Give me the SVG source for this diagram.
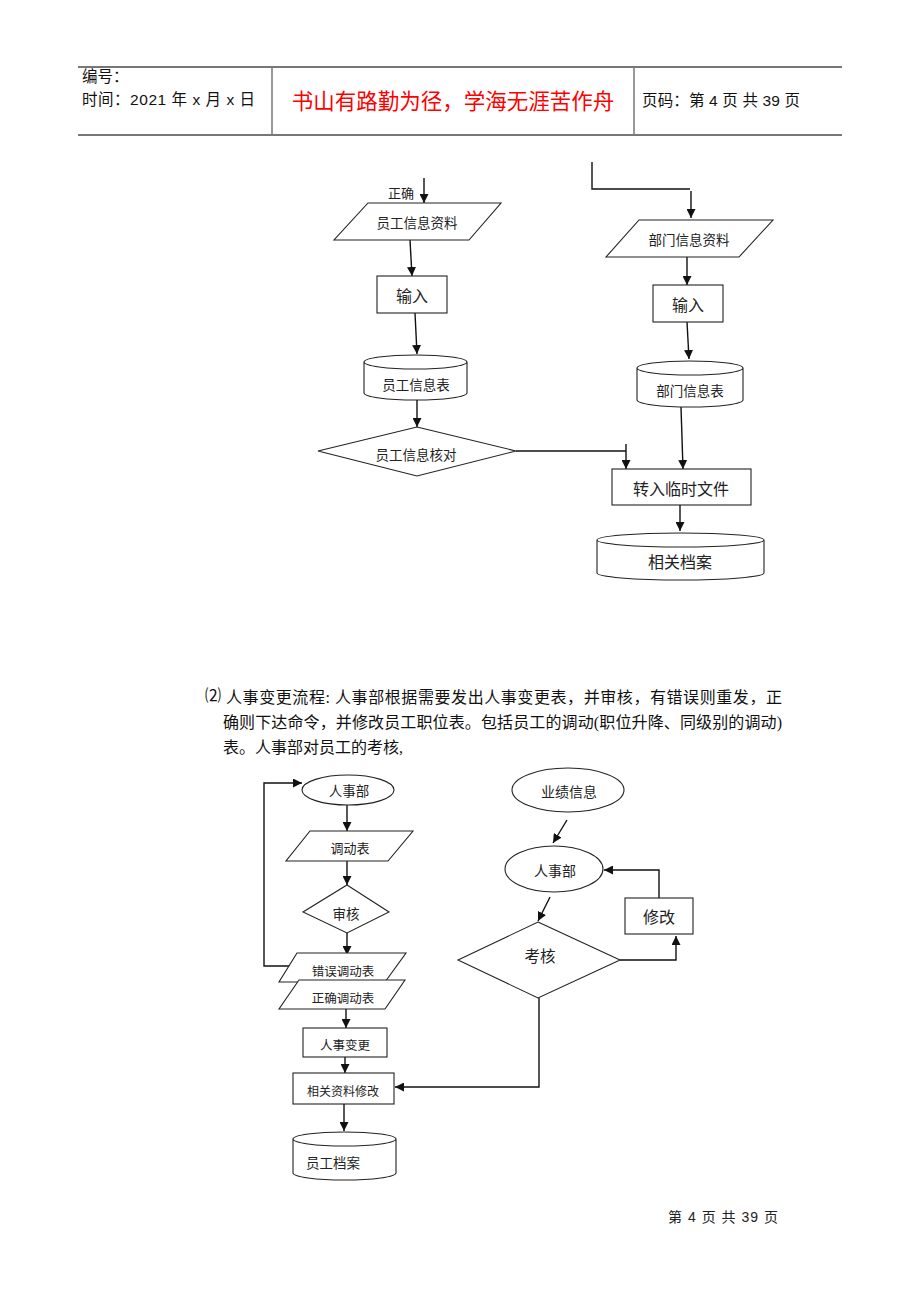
<svg xmlns="http://www.w3.org/2000/svg" width="920" height="1302" viewBox="0 0 920 1302">
<style>
.hd{font-family:"Liberation Sans","Noto Sans CJK SC",sans-serif;font-size:15.5px;fill:#111}
.t{font-family:"Noto Sans CJK SC",sans-serif;fill:#222;text-anchor:middle;dominant-baseline:central}
.sh{fill:#fff;stroke:#222;stroke-width:1.1}
.c{fill:none;stroke:#111;stroke-width:1.4}
.p{font-family:"Liberation Serif","Noto Sans CJK SC",serif;font-size:16px;fill:#111}
</style>
<defs>
<marker id="ah" viewBox="0 0 10 10" refX="10" refY="5" markerWidth="9" markerHeight="9" markerUnits="userSpaceOnUse" orient="auto"><path d="M0,0 L10,5 L0,10 z" fill="#111"/></marker>
</defs>
<rect width="920" height="1302" fill="#fff"/>
<g id="header">
<line x1="78" y1="67" x2="842" y2="67" stroke="#777" stroke-width="2"/>
<line x1="78" y1="135" x2="842" y2="135" stroke="#777" stroke-width="2"/>
<line x1="272" y1="67" x2="272" y2="135" stroke="#777" stroke-width="1.5"/>
<line x1="634" y1="67" x2="634" y2="135" stroke="#777" stroke-width="1.5"/>
<text class="hd" x="82" y="82">编号：</text>
<text class="hd" x="82" y="105" textLength="173" lengthAdjust="spacing">时间：2021 年 x 月 x 日</text>
<text x="453" y="109" text-anchor="middle" font-family="Noto Sans CJK SC,sans-serif" font-size="21.5" fill="#f00">书山有路勤为径，学海无涯苦作舟</text>
<text class="hd" x="642" y="106" textLength="158" lengthAdjust="spacing">页码：第 4 页 共 39 页</text>
</g>
<g id="connectors">
<line class="c" x1="424" y1="178" x2="424" y2="203" marker-end="url(#ah)"/>
<line class="c" x1="410" y1="240" x2="412" y2="276" marker-end="url(#ah)"/>
<line class="c" x1="415" y1="313" x2="417" y2="354" marker-end="url(#ah)"/>
<line class="c" x1="417" y1="400" x2="417" y2="427" marker-end="url(#ah)"/>
<polyline class="c" points="516,451 626,451"/>
<line class="c" x1="626" y1="444" x2="626" y2="469" marker-end="url(#ah)"/>
<polyline class="c" points="592,162 592,189 690,189"/>
<line class="c" x1="691" y1="191" x2="691" y2="218" marker-end="url(#ah)"/>
<line class="c" x1="687" y1="257" x2="687" y2="285" marker-end="url(#ah)"/>
<line class="c" x1="687" y1="322" x2="689" y2="359" marker-end="url(#ah)"/>
<line class="c" x1="681" y1="407" x2="683" y2="469" marker-end="url(#ah)"/>
<line class="c" x1="680" y1="505" x2="680" y2="531" marker-end="url(#ah)"/>
<polyline class="c" points="290,966 264,966 264,783 302,783" marker-end="url(#ah)"/>
<line class="c" x1="347" y1="805" x2="347" y2="831" marker-end="url(#ah)"/>
<line class="c" x1="347" y1="861" x2="347" y2="885" marker-end="url(#ah)"/>
<line class="c" x1="347" y1="933" x2="347" y2="955" marker-end="url(#ah)"/>
<line class="c" x1="346" y1="1009" x2="346" y2="1028" marker-end="url(#ah)"/>
<line class="c" x1="345" y1="1057" x2="345" y2="1073" marker-end="url(#ah)"/>
<line class="c" x1="344" y1="1104" x2="344" y2="1131" marker-end="url(#ah)"/>
<line class="c" x1="567" y1="820" x2="553" y2="843" marker-end="url(#ah)"/>
<line class="c" x1="550" y1="897" x2="538" y2="921" marker-end="url(#ah)"/>
<polyline class="c" points="620,960 676,960 676,936" marker-end="url(#ah)"/>
<polyline class="c" points="659,898 659,870 604,870" marker-end="url(#ah)"/>
<polyline class="c" points="539,998 539,1087 395,1087" marker-end="url(#ah)"/>
</g>
<text class="t" x="401" y="192" font-size="13">正确</text>
<g id="n_ygxxzl">
<polygon class="sh" points="368,203 501,203 469,240 334,240"/>
<text class="t" x="417" y="222" font-size="13.5">员工信息资料</text>
</g>
<g id="n_input1">
<rect class="sh" x="377" y="276" width="70" height="37"/>
<text class="t" x="412" y="295" font-size="16">输入</text>
</g>
<g id="n_ygxxb">
<path class="sh" d="M364,362 A51.5,7 0 0 1 467,362 V393 A51.5,7 0 0 1 364,393 Z M364,362 A51.5,7 0 0 0 467,362"/>
<text class="t" x="416" y="384" font-size="13.5">员工信息表</text>
</g>
<g id="n_ygxxhd">
<polygon class="sh" points="417,427 516,451 417,476 318,451"/>
<text class="t" x="416" y="454" font-size="13.5">员工信息核对</text>
</g>
<g id="n_bmxxzl">
<polygon class="sh" points="639,220 773,220 739,257 606,257"/>
<text class="t" x="689" y="239" font-size="13.5">部门信息资料</text>
</g>
<g id="n_input2">
<rect class="sh" x="653" y="285" width="70" height="37"/>
<text class="t" x="688" y="304" font-size="16">输入</text>
</g>
<g id="n_bmxxb">
<path class="sh" d="M637,368 A53,7 0 0 1 743,368 V400 A53,7 0 0 1 637,400 Z M637,368 A53,7 0 0 0 743,368"/>
<text class="t" x="690" y="390" font-size="13.5">部门信息表</text>
</g>
<g id="n_zrlswj">
<rect class="sh" x="612" y="469" width="139" height="36"/>
<text class="t" x="681" y="488" font-size="16">转入临时文件</text>
</g>
<g id="n_xgda">
<path class="sh" d="M597,540 A83.5,7 0 0 1 764,540 V573 A83.5,7 0 0 1 597,573 Z M597,540 A83.5,7 0 0 0 764,540"/>
<text class="t" x="680" y="561" font-size="16">相关档案</text>
</g>
<g id="paragraph">
<text class="p" x="205" y="701" font-size="12">⑵</text>
<text class="p" x="226" y="703" textLength="556" lengthAdjust="spacing">人事变更流程: 人事部根据需要发出人事变更表，并审核，有错误则重发，正</text>
<text class="p" x="223" y="728" textLength="559" lengthAdjust="spacing">确则下达命令，并修改员工职位表。包括员工的调动(职位升降、同级别的调动)</text>
<text class="p" x="223" y="753">表。人事部对员工的考核,</text>
</g>
<g id="n_rsb1">
<ellipse class="sh" cx="348" cy="790" rx="46" ry="15"/>
<text class="t" x="349" y="790" font-size="13.5">人事部</text>
</g>
<g id="n_ddb">
<polygon class="sh" points="310,831 413,831 388,861 286,861"/>
<text class="t" x="350" y="847" font-size="13">调动表</text>
</g>
<g id="n_sh">
<polygon class="sh" points="347,885 389,912 347,933 303,912"/>
<text class="t" x="346" y="913" font-size="13.5">审核</text>
</g>
<g id="n_cwddb">
<polygon class="sh" points="297,953 406,953 385,982 279,982"/>
<text class="t" x="343" y="970" font-size="12.5">错误调动表</text>
</g>
<g id="n_zqddb">
<polygon class="sh" points="299,980 405,980 385,1009 279,1009"/>
<text class="t" x="343" y="997" font-size="12.5">正确调动表</text>
</g>
<g id="n_rsbg">
<rect class="sh" x="303" y="1028" width="84" height="29"/>
<text class="t" x="345" y="1044" font-size="12.5">人事变更</text>
</g>
<g id="n_xgzlxg">
<rect class="sh" x="293" y="1073" width="101" height="31"/>
<text class="t" x="343" y="1090" font-size="12">相关资料修改</text>
</g>
<g id="n_ygda">
<path class="sh" d="M293,1139 A51.5,7 0 0 1 396,1139 V1173 A51.5,7 0 0 1 293,1173 Z M293,1139 A51.5,7 0 0 0 396,1139"/>
<text class="t" x="333" y="1162" font-size="13.5">员工档案</text>
</g>
<g id="n_yjxx">
<ellipse class="sh" cx="568" cy="790" rx="56" ry="22"/>
<text class="t" x="569" y="791" font-size="14">业绩信息</text>
</g>
<g id="n_rsb2">
<ellipse class="sh" cx="554" cy="869" rx="49" ry="23"/>
<text class="t" x="555" y="870" font-size="14">人事部</text>
</g>
<g id="n_kh">
<polygon class="sh" points="538,922 620,960 538,998 458,960"/>
<text class="t" x="540" y="955" font-size="15.5">考核</text>
</g>
<g id="n_xg">
<rect class="sh" x="625" y="898" width="68" height="36"/>
<text class="t" x="659" y="916" font-size="16">修改</text>
</g>
<g id="footer">
<text x="668" y="1222" font-family="Liberation Sans,Noto Sans CJK SC,sans-serif" font-size="14" fill="#222" textLength="110" lengthAdjust="spacing">第 4 页 共 39 页</text>
</g>
</svg>
